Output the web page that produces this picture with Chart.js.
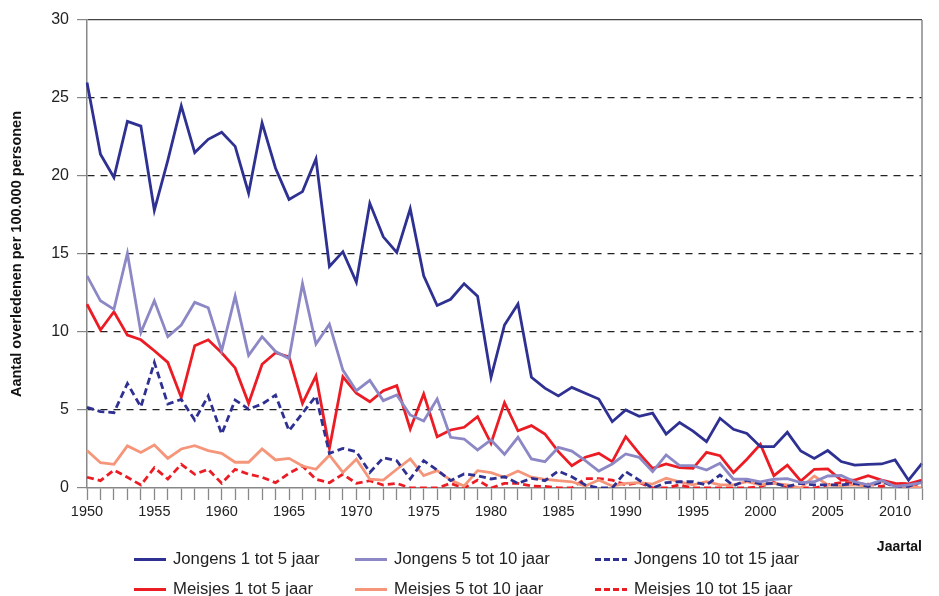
<!DOCTYPE html>
<html>
<head>
<meta charset="utf-8">
<script src="https://cdn.jsdelivr.net/npm/chart.js@4"></script>
<style>
  body { margin: 0; background: #fff; }
  #wrap { position: relative; width: 939px; height: 596px; overflow: hidden; }
  .leg { position: absolute; height: 20px; display: flex; align-items: center;
         font: 16.7px 'Liberation Sans', Arial, sans-serif; color: #222; white-space: nowrap; }
  .leg span.s { display: inline-block; width: 32px; height: 3px; margin-right: 7px; }
</style>
</head>
<body>
<div id="wrap">
  <canvas id="myChart" width="939" height="596"></canvas>
  <div id="legend"></div>
</div>
<script>
var years = [1950,1951,1952,1953,1954,1955,1956,1957,1958,1959,
  1960,1961,1962,1963,1964,1965,1966,1967,1968,1969,
  1970,1971,1972,1973,1974,1975,1976,1977,1978,1979,
  1980,1981,1982,1983,1984,1985,1986,1987,1988,1989,
  1990,1991,1992,1993,1994,1995,1996,1997,1998,1999,
  2000,2001,2002,2003,2004,2005,2006,2007,2008,2009,
  2010,2011,2012];

var jongens1tot5 = [26.0,21.4,19.9,23.5,23.2,17.8,21.0,24.5,21.5,22.35,
  22.8,21.9,18.9,23.4,20.5,18.5,19.0,21.1,14.2,15.15,
  13.2,18.25,16.1,15.1,17.9,13.6,11.7,12.1,13.1,12.3,
  7.1,10.45,11.8,7.1,6.4,5.9,6.45,6.07,5.7,4.25,
  5.0,4.6,4.8,3.46,4.2,3.65,2.97,4.47,3.76,3.5,
  2.65,2.65,3.57,2.37,1.9,2.4,1.7,1.47,1.52,1.54,
  1.8,0.5,1.58];
var jongens5tot10 = [13.6,12.0,11.45,15.05,9.96,12.0,9.7,10.45,11.9,11.55,
  8.8,12.3,8.5,9.7,8.75,8.3,13.1,9.23,10.5,7.56,
  6.24,6.9,5.6,5.96,4.68,4.3,5.7,3.25,3.14,2.44,
  3.08,2.16,3.25,1.86,1.69,2.6,2.37,1.75,1.09,1.54,
  2.18,1.97,1.05,2.12,1.43,1.43,1.15,1.58,0.56,0.56,
  0.4,0.56,0.6,0.35,0.4,0.77,0.8,0.4,0.2,0.5,
  0.1,0.2,0.35];
var jongens10tot15 = [5.17,4.9,4.83,6.7,5.2,8.05,5.38,5.68,4.36,5.9,
  3.46,5.64,5.06,5.38,5.96,3.67,4.79,5.9,2.22,2.54,
  2.33,1.0,1.94,1.75,0.58,1.75,1.15,0.47,0.9,0.79,
  0.58,0.72,0.3,0.62,0.47,1.09,0.72,0.19,0,0,
  1.05,0.5,0,0.34,0.4,0.4,0.2,0.83,0.15,0.5,
  0.26,0.3,0.1,0.3,0.2,0.2,0.2,0.3,0.1,0.4,
  0.1,0.1,0.4];
var meisjes1tot5 = [11.78,10.13,11.3,9.8,9.5,8.8,8.05,5.8,9.12,9.5,
  8.67,7.7,5.43,7.93,8.67,8.4,5.43,7.18,2.54,7.13,
  6.07,5.53,6.24,6.56,3.78,6.03,3.29,3.72,3.89,4.57,
  2.86,5.47,3.67,4.0,3.46,2.33,1.43,1.97,2.22,1.69,
  3.29,2.22,1.26,1.54,1.3,1.26,2.28,2.07,0.98,1.84,
  2.8,0.79,1.47,0.45,1.2,1.22,0.51,0.51,0.79,0.51,
  0.3,0.26,0.51];
var meisjes5tot10 = [2.4,1.62,1.52,2.7,2.28,2.75,1.9,2.5,2.71,2.4,
  2.22,1.65,1.65,2.5,1.8,1.9,1.41,1.2,2.1,1.0,
  1.84,0.56,0.51,1.2,1.86,0.79,1.11,0.51,0.13,1.11,
  0.98,0.69,1.09,0.69,0.56,0.47,0.4,0.13,0.51,0.13,
  0.3,0.35,0.25,0.62,0.4,0.2,0.4,0.2,0.2,0.4,
  0.2,0.3,0.2,0,0.77,0.2,0.15,0.2,0.1,0.4,
  0.15,0.1,0];
var meisjes10tot15 = [0.69,0.47,1.15,0.69,0.19,1.3,0.58,1.52,0.88,1.2,
  0.3,1.2,0.88,0.69,0.34,0.94,1.41,0.56,0.34,0.88,
  0.3,0.47,0.19,0.3,0,0,0,0.3,0,0.51,
  0,0.3,0.3,0.13,0.1,0,0,0.6,0.6,0.5,
  0.2,0.35,0,0,0.2,0,0,0,0,0,
  0.1,0.35,0.1,0,0,0.2,0.35,0.3,0.25,0.1,
  0.3,0.25,0.2];

var yTicks = [0, 5, 10, 15, 20, 25, 30];

var donkerblauw = '#2e3192';
var lichtpaars = '#8c88c6';
var rood = '#ec1c24';
var zalm = '#f5967a';

var series = [
  { label: 'Jongens 1 tot 5 jaar', data: jongens1tot5, color: donkerblauw, dash: [] },
  { label: 'Jongens 5 tot 10 jaar', data: jongens5tot10, color: lichtpaars, dash: [] },
  { label: 'Jongens 10 tot 15 jaar', data: jongens10tot15, color: donkerblauw, dash: [7, 4] },
  { label: 'Meisjes 1 tot 5 jaar', data: meisjes1tot5, color: rood, dash: [] },
  { label: 'Meisjes 5 tot 10 jaar', data: meisjes5tot10, color: zalm, dash: [] },
  { label: 'Meisjes 10 tot 15 jaar', data: meisjes10tot15, color: rood, dash: [7, 4] }
];

Chart.defaults.font.family = "'Liberation Sans', Arial, sans-serif";
Chart.defaults.color = '#222';

// rechter kader van het plotvlak
var frame = {
  id: 'frame',
  afterDraw: function (chart) {
    var a = chart.chartArea, c = chart.ctx;
    c.save();
    c.strokeStyle = '#888';
    c.lineWidth = 1.5;
    c.beginPath();
    c.moveTo(a.right, a.top);
    c.lineTo(a.right, a.bottom);
    c.stroke();
    c.restore();
  }
};

var ctx = document.getElementById('myChart').getContext('2d');
var chart = new Chart(ctx, {
  type: 'line',
  data: {
    labels: years,
    datasets: series.map(function (s) {
      return {
        label: s.label,
        data: s.data,
        borderColor: s.color,
        backgroundColor: s.color,
        borderDash: s.dash,
        borderWidth: 2.8,
        pointRadius: 0,
        tension: 0,
        fill: false
      };
    })
  },
  options: {
    responsive: false,
    animation: false,
    layout: { padding: { left: 4, right: 17, top: 20, bottom: 40 } },
    plugins: { legend: { display: false }, tooltip: { enabled: false } },
    scales: {
      x: {
        offset: false,
        grid: { drawOnChartArea: false, tickLength: 12, color: '#888', tickColor: '#888', tickWidth: 1.3 },
        border: { color: '#888', width: 1.5 },
        ticks: {
          autoSkip: false, maxRotation: 0, padding: 3,
          font: { size: 14.5 }, color: '#222',
          callback: function (v, i) { return years[i] % 5 === 0 ? String(years[i]) : ''; }
        },
        title: { display: true, text: 'Jaartal', align: 'end', color: '#111',
                 font: { size: 14, weight: 'bold' }, padding: 0 },
        afterFit: function (s) { s.height = 68; }
      },
      y: {
        min: 0, max: 30,
        afterBuildTicks: function (s) { s.ticks = yTicks.map(function (v) { return { value: v }; }); },
        ticks: { padding: 8, font: { size: 16 }, color: '#222' },
        grid: {
          tickLength: 10, tickColor: '#888', lineWidth: 1.2,
          color: function (c) {
            if (!c.tick) return '#222';
            if (c.tick.value === 0) return 'rgba(0,0,0,0)';
            if (c.tick.value === 30) return '#444';
            return '#222';
          }
        },
        border: {
          color: '#888', width: 1.5,
          dash: function (c) { return (c.tick && c.tick.value === 30) ? [] : [7, 6]; }
        },
        title: { display: true, text: 'Aantal overledenen per 100.000 personen', color: '#111',
                 font: { size: 14.5, weight: 'bold' }, padding: { top: 4, bottom: 2 } },
        afterFit: function (s) { s.width = 83; }
      }
    }
  },
  plugins: [frame]
});

// legenda in drie kolommen, twee rijen
var legX = [134, 355, 595];
var legY = [559, 589];
var legend = document.getElementById('legend');
series.forEach(function (s, i) {
  var d = document.createElement('div');
  d.className = 'leg';
  d.style.left = legX[i % 3] + 'px';
  d.style.top = (legY[Math.floor(i / 3)] - 10) + 'px';
  var sw = document.createElement('span');
  sw.className = 's';
  sw.style.background = s.dash.length
    ? 'repeating-linear-gradient(90deg,' + s.color + ' 0 6px, transparent 6px 9px)'
    : s.color;
  d.appendChild(sw);
  d.appendChild(document.createTextNode(s.label));
  legend.appendChild(d);
});
</script>
</body>
</html>
